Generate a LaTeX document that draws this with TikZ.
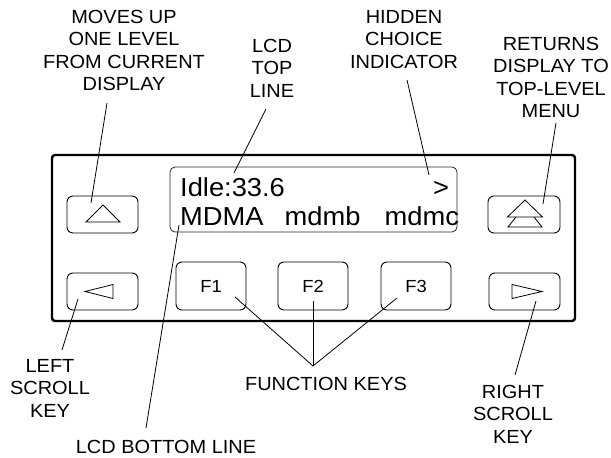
\documentclass[tikz,border=0pt]{standalone}
\usepackage{fontspec}
\setmainfont{Liberation Sans}[FakeStretch=1.05]
\usetikzlibrary{positioning}

\tikzset{
  keybox/.style={draw, line width=0.9pt, rounded corners=6pt, inner sep=0pt},
  callout/.style={align=center, inner sep=0pt, anchor=north, font=\fontsize{19}{22.5}\selectfont},
  lcdtext/.style={inner sep=0pt, anchor=base west, font=\fontsize{26}{30}\selectfont},
  leadline/.style={line width=0.8pt},
  glyph/.style={line width=0.8pt, line join=miter},
}

\begin{document}
\begin{tikzpicture}[x=1pt, y=-1pt]
\useasboundingbox (0,0) rectangle (611,458);

% Front panel and display
\node[draw, line width=2.4pt, rounded corners=3pt, minimum width=523pt, minimum height=166pt] (panel) at (313.5,238) {};
\node[draw=black!85, line width=0.8pt, rounded corners=5pt, minimum width=287pt, minimum height=65pt, inner sep=0pt] (lcd) at (313.5,199.5) {};

\node[lcdtext] (idle) at (180,196) {Idle:33.6};
\node[lcdtext] (more) at (433,196) {>};
\node[lcdtext] (mdma) at (180,225) {MDMA};
\node[lcdtext] (mdmb) at (284.5,225) {mdmb};
\node[lcdtext] (mdmc) at (384.5,225) {mdmc};

% Keys
\node[keybox, minimum width=71pt, minimum height=37pt] (upkey) at (102.5,214.5) {};
\node[keybox, minimum width=72pt, minimum height=37pt] (topkey) at (524,214.5) {};
\node[keybox, minimum width=71pt, minimum height=37pt] (leftkey) at (102.5,291.5) {};
\node[keybox, minimum width=71pt, minimum height=37pt] (rightkey) at (524.5,291.5) {};
\foreach \n/\x in {1/211, 2/313, 3/416} {
    \node[keybox, minimum width=70pt, minimum height=48pt, font=\fontsize{17.5}{20}\selectfont] (f\n) at (\x,286) {F\n};
}

% Key symbols
\draw[glyph] (103,205) -- (86,222) -- (120,222) -- cycle;
\draw[glyph] (525,200) -- (507.5,217) -- (542.5,217) -- cycle;
\draw[glyph] (516,217) -- (508,227) -- (542,227) -- (534,217);
\draw[glyph] (85,291.5) -- (113,284.5) -- (113,298.5) -- cycle;
\draw[glyph] (542,291.5) -- (512,284.5) -- (512,298.5) -- cycle;

% Callouts
\node[callout] (moves) at (124,10) {MOVES UP\\ONE LEVEL\\FROM CURRENT\\DISPLAY};
\node[callout] (lcdtop) at (272,39) {LCD\\TOP\\LINE};
\node[callout] (hidden) at (404,10) {HIDDEN\\CHOICE\\INDICATOR};
\node[callout] (returns) at (551,37) {RETURNS\\DISPLAY TO\\TOP-LEVEL\\MENU};
\node[callout] (leftscroll) at (50,359) {LEFT\\SCROLL\\KEY};
\node[callout] (funckeys) at (326,377) {FUNCTION KEYS};
\node[callout] (rightscroll) at (513,385) {RIGHT\\SCROLL\\KEY};
\node[callout] (lcdbottom) at (166,440) {LCD BOTTOM LINE};

% Leader lines
\coordinate (moves-a) at (107,103);   \coordinate (moves-b) at (91,203);
\coordinate (lcdtop-a) at (266,109);  \coordinate (lcdtop-b) at (234,173);
\coordinate (hidden-a) at (407,80);   \coordinate (hidden-b) at (429,175);
\coordinate (returns-a) at (556,123); \coordinate (returns-b) at (543,204);
\coordinate (lcdbot-a) at (179,225);  \coordinate (lcdbot-b) at (146,428);
\coordinate (left-a) at (78,299);     \coordinate (left-b) at (62,350);
\coordinate (right-a) at (536,301);   \coordinate (right-b) at (515,375);
\coordinate (f1-a) at (235,297);
\coordinate (f2-a) at (313,301);
\coordinate (f3-a) at (397,298);
\coordinate (fk-join) at (313,366);

\draw[leadline] (moves-a) -- (moves-b);
\draw[leadline] (lcdtop-a) -- (lcdtop-b);
\draw[leadline] (hidden-a) -- (hidden-b);
\draw[leadline] (returns-a) -- (returns-b);
\draw[leadline] (lcdbot-a) -- (lcdbot-b);
\draw[leadline] (left-a) -- (left-b);
\draw[leadline] (right-a) -- (right-b);
\draw[leadline] (f1-a) -- (fk-join) -- (f3-a);
\draw[leadline] (f2-a) -- (fk-join);

\end{tikzpicture}
\end{document}
